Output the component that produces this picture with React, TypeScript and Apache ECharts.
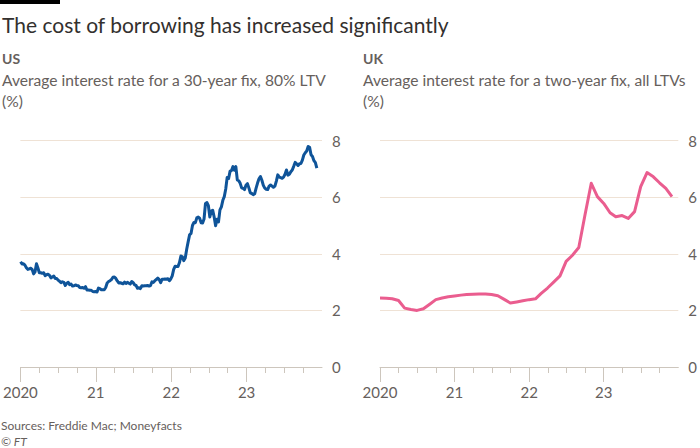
import React, { useEffect, useRef } from "react";
import * as echarts from "echarts";

// US: Freddie Mac 30-year fixed, weekly (first week: 2 Jan 2020)
const us2020 = [3.72, 3.64, 3.65, 3.60, 3.51, 3.45, 3.47, 3.49, 3.45, 3.29, 3.36, 3.65, 3.50, 3.33, 3.33, 3.31, 3.33, 3.23, 3.26, 3.28, 3.24, 3.15, 3.18, 3.21, 3.13, 3.13, 3.07, 3.03, 2.98, 3.01, 2.99, 2.88, 2.96, 2.99, 2.91, 2.93, 2.86, 2.87, 2.90, 2.88, 2.87, 2.81, 2.80, 2.81, 2.78, 2.84, 2.72, 2.72, 2.71, 2.71, 2.67, 2.66, 2.67];
const us2021 = [2.65, 2.79, 2.77, 2.73, 2.73, 2.73, 2.81, 2.97, 3.02, 3.05, 3.09, 3.17, 3.18, 3.13, 3.04, 2.97, 2.98, 2.96, 2.94, 3.00, 2.95, 2.99, 2.96, 2.93, 3.02, 2.98, 2.90, 2.88, 2.78, 2.80, 2.77, 2.87, 2.86, 2.87, 2.87, 2.88, 2.86, 2.88, 3.01, 2.99, 3.05, 3.09, 3.14, 3.09, 2.98, 3.10, 3.10, 3.11, 3.10, 3.12, 3.05, 3.11];
const us2022 = [3.22, 3.45, 3.56, 3.55, 3.55, 3.69, 3.92, 3.89, 3.76, 3.85, 4.16, 4.42, 4.67, 4.72, 5.00, 5.11, 5.10, 5.27, 5.30, 5.25, 5.10, 5.09, 5.23, 5.78, 5.81, 5.70, 5.30, 5.51, 5.54, 5.30, 4.99, 5.22, 5.13, 5.55, 5.66, 5.89, 6.02, 6.29, 6.70, 6.66, 6.92, 6.94, 7.08, 6.95, 7.08, 6.61, 6.58, 6.49, 6.33, 6.31, 6.27, 6.42];
const us2023 = [6.48, 6.33, 6.15, 6.13, 6.09, 6.12, 6.32, 6.50, 6.65, 6.73, 6.60, 6.42, 6.32, 6.28, 6.27, 6.39, 6.43, 6.39, 6.35, 6.39, 6.57, 6.79, 6.71, 6.69, 6.67, 6.71, 6.81, 6.96, 6.78, 6.81, 6.90, 6.96, 7.09, 7.23, 7.18, 7.12, 7.18, 7.19, 7.31, 7.49, 7.57, 7.63, 7.79, 7.76, 7.50, 7.44, 7.29, 7.22, 7.03];

// UK: Moneyfacts average two-year fix, monthly (Jan 2020 onwards)
const uk2020 = [2.44, 2.43, 2.41, 2.35, 2.08, 2.03, 2.00, 2.06, 2.22, 2.38, 2.44, 2.48];
const uk2021 = [2.51, 2.54, 2.56, 2.57, 2.58, 2.58, 2.56, 2.52, 2.39, 2.26, 2.30, 2.34];
const uk2022 = [2.38, 2.41, 2.60, 2.79, 3.00, 3.22, 3.73, 3.95, 4.22, 5.36, 6.49, 6.02];
const uk2023 = [5.78, 5.45, 5.31, 5.35, 5.25, 5.49, 6.37, 6.87, 6.72, 6.51, 6.31, 6.02];

const yearTicks = [2020, 2021, 2022, 2023];

const TEXT = "#66605c";
const FONT = "Lato, 'Noto Sans', sans-serif";

function decYear(t: number) {
  const d = new Date(t);
  const y = d.getUTCFullYear();
  const s = Date.UTC(y, 0, 1);
  const e = Date.UTC(y + 1, 0, 1);
  return y + (t - s) / (e - s);
}

function weeklyPoints(values: number[]) {
  const start = Date.UTC(2020, 0, 2);
  return values.map((v, i) => [decYear(start + i * 7 * 86400000), v]);
}

function monthlyPoints(values: number[]) {
  return values.map((v, i) => [decYear(Date.UTC(2020, i, 1)), v]);
}

const usValues = [...us2020, ...us2021, ...us2022, ...us2023];
const ukValues = [...uk2020, ...uk2021, ...uk2022, ...uk2023];

export default function App() {
  const ref = useRef<HTMLDivElement>(null);
  useEffect(() => {
    if (!ref.current) return;
    const chart = echarts.init(ref.current, undefined, { renderer: "svg" });
    const grids = [
      { left: 17.5, top: 140.6, width: 304.5, height: 226.4 },
      { left: 380, top: 140.6, width: 300, height: 226.4 },
    ];
    const xAxis = grids.map((_, i) => ({
      type: "value",
      gridIndex: i,
      min: 2020,
      max: 2024,
      interval: 1,
      axisLine: { show: true, lineStyle: { color: "#cdc6bd", width: 1 } },
      axisTick: { show: true, customValues: yearTicks, length: 15, lineStyle: { color: "#cdc6bd" } },
      minorTick: { show: true, splitNumber: 4, length: 6, lineStyle: { color: "#cdc6bd" } },
      splitLine: { show: false },
      axisLabel: {
        customValues: yearTicks,
        margin: 17,
        color: TEXT,
        fontFamily: FONT,
        fontSize: 15,
        formatter: (v: number) => (v === 2020 ? "2020" : String(v).slice(2)),
      },
    }));
    const yAxis = grids.map((_, i) => ({
      type: "value",
      gridIndex: i,
      position: "right",
      min: 0,
      max: 8,
      interval: 2,
      axisLine: { show: false },
      axisTick: { show: false },
      splitLine: { show: true, lineStyle: { color: "#efe2d5", width: 1 } },
      axisLabel: { margin: 10, color: TEXT, fontFamily: FONT, fontSize: 15 },
    }));
    const texts = [
      { x: 2, y: 24, text: "The cost of borrowing has increased significantly", font: `21px ${FONT}`, fill: "#33302e" },
      { x: 2, y: 58, text: "US", font: `bold 14px ${FONT}`, fill: TEXT },
      { x: 2, y: 80, text: "Average interest rate for a 30-year fix, 80% LTV", font: `15.6px ${FONT}`, fill: TEXT },
      { x: 2, y: 101, text: "(%)", font: `15.6px ${FONT}`, fill: TEXT },
      { x: 363, y: 58, text: "UK", font: `bold 14px ${FONT}`, fill: TEXT },
      { x: 363, y: 80, text: "Average interest rate for a two-year fix, all LTVs", font: `15.6px ${FONT}`, fill: TEXT },
      { x: 363, y: 101, text: "(%)", font: `15.6px ${FONT}`, fill: TEXT },
      { x: 1, y: 425, text: "Sources: Freddie Mac; Moneyfacts", font: `12px ${FONT}`, fill: TEXT },
      { x: 1, y: 441, text: "© FT", font: `italic 12px ${FONT}`, fill: TEXT },
    ];
    chart.setOption({
      animation: false,
      backgroundColor: "#ffffff",
      grid: grids,
      xAxis,
      yAxis,
      graphic: [
        { type: "rect", shape: { x: 0, y: 0, width: 60, height: 4 }, style: { fill: "#000000" } },
        ...texts.map((t) => ({
          type: "text",
          x: t.x,
          y: t.y,
          style: { text: t.text, font: t.font, fill: t.fill, verticalAlign: "middle", align: "left" },
        })),
      ],
      series: [
        {
          type: "line",
          xAxisIndex: 0,
          yAxisIndex: 0,
          data: weeklyPoints(usValues),
          showSymbol: false,
          lineStyle: { color: "#0f5499", width: 3, join: "round" },
          silent: true,
        },
        {
          type: "line",
          xAxisIndex: 1,
          yAxisIndex: 1,
          data: monthlyPoints(ukValues),
          showSymbol: false,
          lineStyle: { color: "#ea5d8f", width: 3, join: "round" },
          silent: true,
        },
      ],
    });
    return () => chart.dispose();
  }, []);
  return (
    <div
      ref={ref}
      style={{ position: "absolute", left: 0, top: 0, width: 700, height: 448, background: "#fff" }}
    />
  );
}
